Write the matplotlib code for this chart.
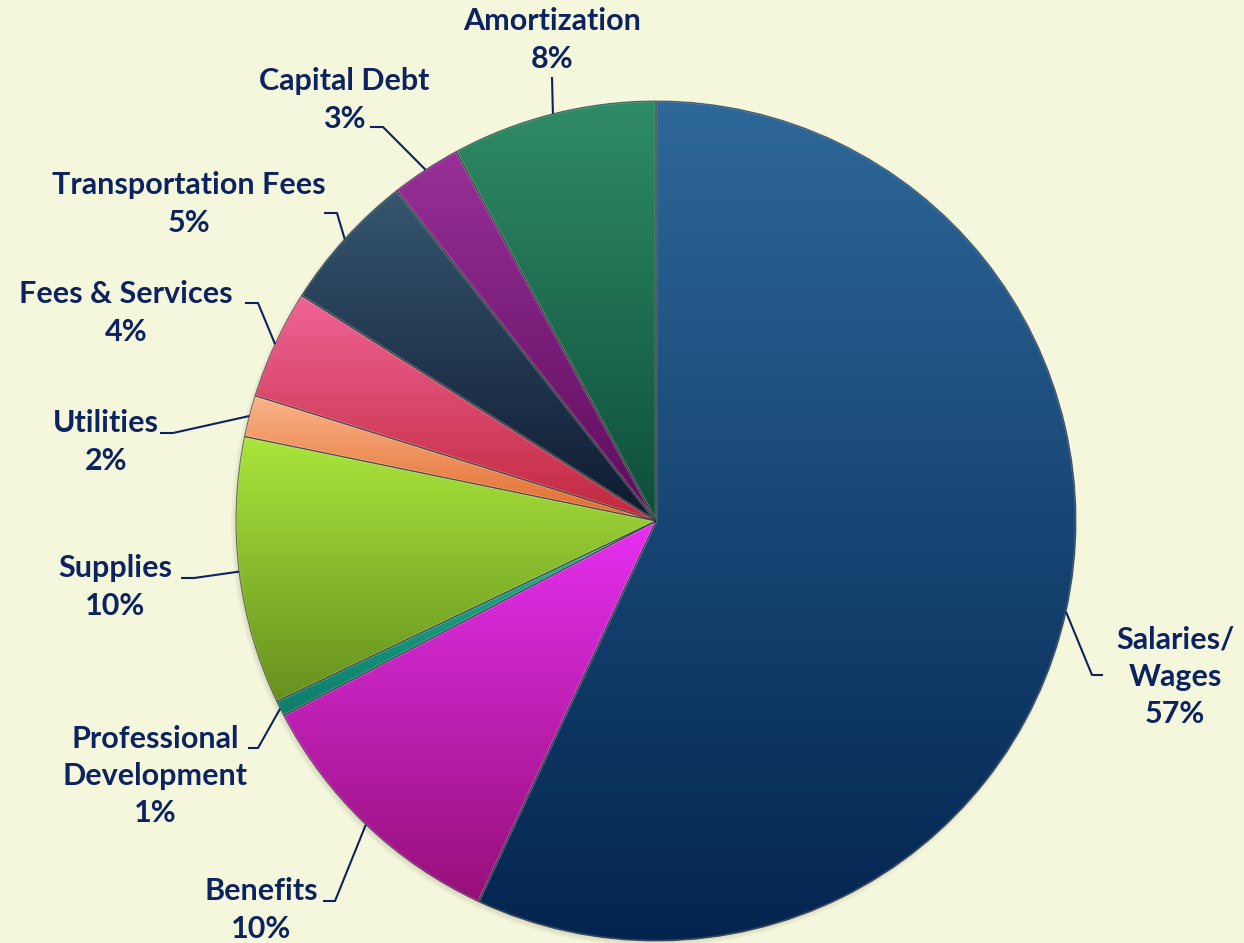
import matplotlib

matplotlib.use("Agg")

import matplotlib.pyplot as plt
import numpy as np
from matplotlib.colors import to_rgb
from matplotlib.patches import Circle, PathPatch

BG = "#f5f7dc"
INK = "#0c2360"

# slices, clockwise from 12 o'clock
categories = ["Salaries/\nWages", "Benefits", "Professional\nDevelopment", "Supplies",
              "Utilities", "Fees & Services", "Transportation Fees", "Capital Debt",
              "Amortization"]
shares = [57.0, 10.4, 0.6, 10.3, 1.6, 4.2, 5.4, 2.7, 7.9]

# light (top) -> dark (bottom) gradient for each slice
light = ["#2d6899", "#e630f0", "#22b494", "#aae63c", "#fbb48a", "#f06496", "#35566f",
         "#983098", "#2f8c66"]
dark = ["#03244f", "#961078", "#0e7c6a", "#66901e", "#e06a2a", "#c0283c", "#0e1a30",
        "#5c0c5a", "#0e4e3a"]

# layout in image pixels (y down): label centre, leader start, leader elbow
label_xy = [(1175, 677), (261, 910), (155, 776), (115, 587), (106, 442), (126, 313),
            (189, 204), (344, 100), (552, 40)]
lead_start = [(1103, 675), (323, 901), (248, 748), (181, 578), (160, 433), (245, 303),
              (324, 213), (370, 127), (552, 77)]
lead_elbow = [(1092, 675), (335, 901), (258, 748), (194, 578), (173, 433), (258, 303),
              (337, 213), (383, 127), (552, 77)]

W, H = 1244, 943
CX, CY, R = 656, H - 521, 420


def up(p):
    return p[0], H - p[1]


fig = plt.figure(figsize=(W / 100, H / 100), dpi=100, facecolor=BG)
ax = fig.add_axes([0, 0, 1, 1])
ax.set_facecolor(BG)

# soft drop shadow, lower left
for k in range(5):
    ax.add_patch(Circle((CX - 2, CY - 3), R + 3 - k, facecolor="#606040", alpha=0.03,
                        lw=0, edgecolor="none"))

wedges, _ = ax.pie(shares, colors=light, startangle=90, counterclock=False, radius=R,
                   center=(CX, CY), frame=True,
                   wedgeprops={"edgecolor": "none", "linewidth": 0})
ax.set_xlim(0, W)
ax.set_ylim(0, H)
ax.set_aspect("equal")
ax.axis("off")

for w, c0, c1 in zip(wedges, light, dark):
    path = w.get_patch_transform().transform_path(w.get_path())
    x0, y0 = path.vertices.min(axis=0)
    x1, y1 = path.vertices.max(axis=0)
    t = np.linspace(0, 1, 256)[:, None]
    grad = (1 - t) * np.array(to_rgb(c0)) + t * np.array(to_rgb(c1))
    im = ax.imshow(grad[:, None, :], extent=(x0, x1, y0, y1), origin="upper",
                   aspect="auto", zorder=w.get_zorder() + 0.1, interpolation="bilinear")
    im.set_clip_path(w)
    # faint highlight along the rim, then the outline on top of the fill
    ax.add_patch(PathPatch(path, fill=False, edgecolor="white", lw=1.8, alpha=0.2,
                           zorder=w.get_zorder() + 0.15))
    ax.add_patch(PathPatch(path, fill=False, edgecolor="#2e2e2e", lw=0.8, alpha=0.6,
                           zorder=w.get_zorder() + 0.2))

for w, name, v, lxy, ls, le in zip(wedges, categories, shares, label_xy, lead_start,
                                     lead_elbow):
    mid = np.deg2rad((w.theta1 + w.theta2) / 2)
    ex, ey = CX + R * np.cos(mid), CY + R * np.sin(mid)
    sx, sy = up(ls)
    bx, by = up(le)
    ax.plot([sx, bx, ex], [sy, by, ey], color=INK, lw=1.5, zorder=5,
            solid_capstyle="butt")
    tx, ty = up(lxy)
    ax.text(tx, ty, f"{name}\n{v:.0f}%", ha="center", va="center", ma="center",
            color=INK, fontsize=22, fontweight="bold", family=["Lato", "DejaVu Sans"],
            linespacing=1.4, zorder=6)

fig.savefig("out.png", dpi=100, facecolor=BG)
